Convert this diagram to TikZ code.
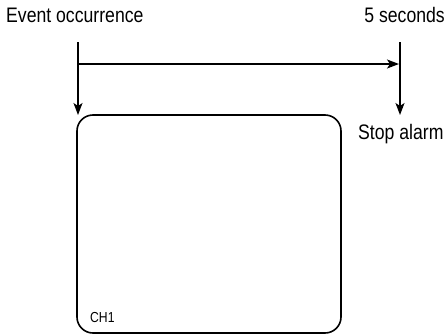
\documentclass[tikz,border=0pt]{standalone}
\usepackage{fontspec}
\setmainfont{Liberation Sans}[FakeStretch=0.84]
\usetikzlibrary{arrows.meta,positioning}

\begin{document}
\begin{tikzpicture}[
    x=1pt, y=-1pt,
    lbl/.style={inner sep=0pt, font=\fontsize{21}{24}\selectfont},
    chlbl/.style={inner sep=0pt, font=\fontsize{14.5}{16}\selectfont},
    screen/.style={draw, line width=1.6pt, rounded corners=16pt, minimum width=264pt, minimum height=218pt, inner sep=0pt},
    flow/.style={line width=1.6pt, -{Stealth[length=12pt, width=9pt, inset=3pt]}}
  ]
    \useasboundingbox (0,0) rectangle (447,335);

    \node[lbl, anchor=base west] (event) at (6,22) {Event occurrence};
    \node[lbl, anchor=base east] (secs) at (445,22) {5 seconds};
    \node[lbl, anchor=base west] (stop) at (358,139) {Stop alarm};
    \node[screen] (screen) at (209,224) {};
    \node[chlbl, anchor=base west] (ch) at (90,322) {CH1};

    \coordinate (evtop) at (78,42);
    \coordinate (evend) at (78,115);
    \coordinate (sectop) at (400,42);
    \coordinate (secend) at (400,115);
    \coordinate (span) at (78,64);

    \draw[flow] (evtop) -- (evend);
    \draw[flow] (sectop) -- (secend);
    \draw[flow, shorten >=1pt] (span) -- (span -| sectop);
  \end{tikzpicture}
\end{document}
